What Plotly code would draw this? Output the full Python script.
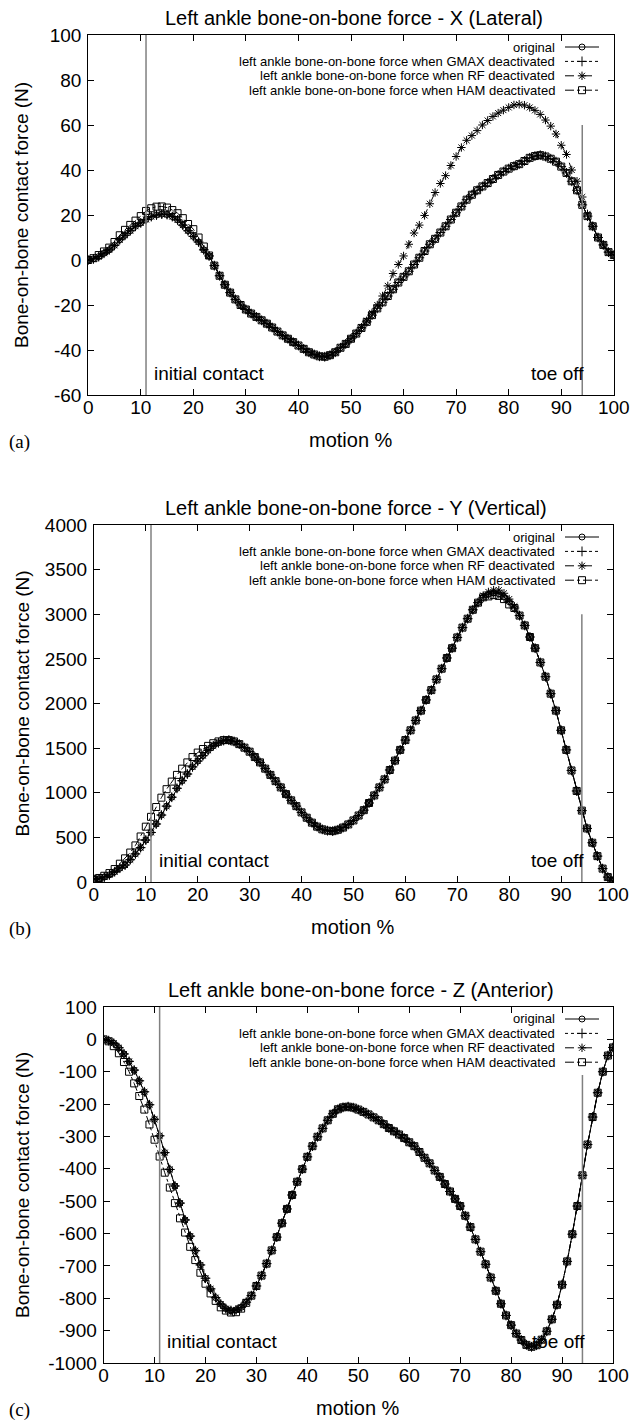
import plotly.graph_objects as go

# ---------------- data ----------------
motion_pct = list(range(0, 101))

x_tick_vals = [0, 10, 20, 30, 40, 50, 60, 70, 80, 90, 100]
x_tick_text = ["0", "10", "20", "30", "40", "50", "60", "70", "80", "90", "100"]

a_tick_vals = [-60, -40, -20, 0, 20, 40, 60, 80, 100]
a_tick_text = ["-60", "-40", "-20", "0", "20", "40", "60", "80", "100"]
b_tick_vals = [0, 500, 1000, 1500, 2000, 2500, 3000, 3500, 4000]
b_tick_text = ["0", "500", "1000", "1500", "2000", "2500", "3000", "3500", "4000"]
c_tick_vals = [-1000, -900, -800, -700, -600, -500, -400, -300, -200, -100, 0, 100]
c_tick_text = ["-1000", "-900", "-800", "-700", "-600", "-500", "-400", "-300",
               "-200", "-100", "0", "100"]

panel_titles = ["Left ankle bone-on-bone force - X (Lateral)",
                "Left ankle bone-on-bone force - Y (Vertical)",
                "Left ankle bone-on-bone force - Z (Anterior)"]
panel_labels = ["(a)", "(b)", "(c)"]
series_names = ["original",
                "left ankle bone-on-bone force when GMAX deactivated",
                "left ankle bone-on-bone force when RF deactivated",
                "left ankle bone-on-bone force when HAM deactivated"]

initial_contact_pct = 11
toe_off_pct = 94
toe_off_line_top = [60, 3000, -110]

# Panel (a) X (Lateral)
a_orig = [0, 0.5, 1.5, 3, 4.5, 6.5, 9, 11, 13, 15,
          16.5, 18, 19.3, 20, 20.4, 20.2, 19.3, 17.8, 15.5, 13,
          10.5, 8, 4.5, 1.8, -2.5, -7, -11, -14.5, -17.5, -20,
          -22, -23.8, -25.3, -26.8, -28.3, -30, -31.8, -33.5, -35, -36.5,
          -38, -39.5, -41, -42, -42.8, -43, -42.3, -41, -39, -37.3,
          -35, -32.7, -30.2, -27.5, -24.5, -21.5, -18.8, -16, -13, -10,
          -7.5, -5, -2, 1, 4, 7, 9.4, 12.2, 15, 18,
          21, 23.8, 26.8, 29, 31, 32.7, 34.2, 36, 37.8, 39.3,
          40.6, 41.7, 42.6, 44, 45.4, 46.2, 46.6, 46, 45, 43.7,
          41.5, 38.7, 35, 31, 24.5, 19.5, 15, 10, 6.7, 3.5,
          2.2]
a_gmax = list(a_orig)  # coincides with the original curve in the picture
a_rf = a_orig[:52] + [-30, -27, -23.5, -20, -16, -11.5, -6, -2,
                      1.8, 7, 12, 15.5, 19.8, 25, 30, 34, 37.5, 42,
                      46, 50, 53.2, 55.3, 57.5, 60, 62, 63.8, 65.3, 66.6,
                      67.8, 68.9, 69.2, 68.8, 67.8, 66.5, 64.7, 62.2, 59.5, 56,
                      51, 46.9, 40, 35, 28, 20.5, 15, 10, 6.7, 3.5, 2.2]
a_ham = [0, 0.8, 2.2, 3.8, 5.5, 8, 11, 13.4, 15.6, 17.5,
         19.5, 21.8, 23, 23.7, 23.8, 23.3, 22.2, 20.8, 18.6, 16,
         13.7, 10, 6, 2] + a_orig[24:]

# Panel (b) Y (Vertical)
b_orig = [30, 35, 55, 80, 115, 155, 190, 250, 315, 385,
          470, 555, 650, 750, 850, 950, 1050, 1135, 1210, 1290,
          1355, 1415, 1475, 1525, 1560, 1585, 1590, 1575, 1545, 1505,
          1460, 1400, 1340, 1270, 1200, 1130, 1060, 985, 915, 850,
          780, 720, 665, 620, 590, 575, 570, 585, 610, 645,
          690, 745, 805, 885, 970, 1060, 1150, 1255, 1360, 1480,
          1590, 1700, 1810, 1920, 2040, 2150, 2270, 2390, 2510, 2620,
          2740, 2850, 2950, 3050, 3130, 3190, 3225, 3240, 3230, 3195,
          3140, 3070, 2985, 2875, 2745, 2620, 2460, 2300, 2110, 1920,
          1700, 1480, 1250, 1020, 800, 600, 440, 290, 150, 55,
          10]
b_gmax = list(b_orig)
b_rf = b_orig[:75] + [3210, 3250, 3270, 3270, 3235, 3170, 3090] + b_orig[82:]
b_ham = ([30, 45, 70, 100, 145, 205, 265, 330, 410, 510,
          620, 730, 840, 945, 1040, 1125, 1200, 1270, 1340, 1400,
          1450, 1490, 1525, 1555, 1575, 1590]
         + b_orig[26:76] + [3200, 3215, 3205, 3170, 3110] + b_orig[81:])

# Panel (c) Z (Anterior)
c_orig = [0, -4, -12, -26, -45, -68, -95, -128, -162, -202,
          -247, -298, -350, -402, -453, -506, -558, -608, -653, -697,
          -738, -771, -798, -818, -832, -838, -836, -828, -812, -792,
          -762, -730, -693, -652, -611, -568, -524, -481, -440, -401,
          -363, -330, -301, -275, -250, -230, -216, -210, -208, -211,
          -217, -224, -232, -241, -250, -262, -274, -284, -294, -305,
          -318, -330, -348, -366, -383, -405, -425, -447, -470, -493,
          -515, -545, -580, -618, -656, -695, -736, -777, -817, -853,
          -883, -909, -929, -944, -950, -945, -928, -902, -865, -820,
          -758, -686, -602, -515, -420, -325, -240, -165, -100, -50,
          -25]
c_gmax = list(c_orig)
c_rf = list(c_orig)
c_ham = [0, -6, -21, -43, -70, -100, -136, -175, -217, -263,
         -310, -362, -412, -458, -506, -553, -597, -641, -682, -721,
         -755, -785, -808, -828, -838, -844, -843, -832, -814] + c_orig[29:]

panels = [
    (a_orig, a_gmax, a_rf, a_ham),
    (b_orig, b_gmax, b_rf, b_ham),
    (c_orig, c_gmax, c_rf, c_ham),
]

# ---------------- styling ----------------
W, H = 634, 1424
SANS = "Liberation Sans, Arial, Helvetica, sans-serif"
SERIF = "Liberation Serif, Times New Roman, serif"
BIG = 19
TITLE = 20
SMALL = 13

# plot-area boxes in pixels: (left, right, top, bottom)
boxes = [(88.2, 613.8, 35, 395),
         (93.9, 613.0, 525, 882),
         (103.6, 613.0, 1007, 1363)]
y_ranges = [(-60, 100), (0, 4000), (-1000, 100)]
y_ticks = [(a_tick_vals, a_tick_text), (b_tick_vals, b_tick_text), (c_tick_vals, c_tick_text)]

styles = [
    dict(dash="solid", symbol="circle-open", size=6),
    dict(dash="dot", symbol="cross-thin-open", size=7),
    dict(dash="dash", symbol="asterisk-open", size=7),
    dict(dash="dashdot", symbol="square-open", size=7),
]

def px_x(px):
    return px / W

def px_y(py):
    return 1 - py / H

fig = go.Figure()
layout = dict(width=W, height=H, margin=dict(l=0, r=0, t=0, b=0),
              paper_bgcolor="white", plot_bgcolor="rgba(0,0,0,0)",
              showlegend=False, font=dict(family=SANS, size=BIG, color="black"))
annotations = []
shapes = []

for i, (series, box) in enumerate(zip(panels, boxes)):
    n = "" if i == 0 else str(i + 1)
    xa, ya = "x" + n, "y" + n
    left, right, top, bottom = box
    for vals, st in zip(series, styles):
        fig.add_trace(go.Scatter(
            x=motion_pct, y=vals, xaxis=xa, yaxis=ya, mode="lines+markers",
            line=dict(color="black", width=1, dash=st["dash"]),
            marker=dict(symbol=st["symbol"], size=st["size"], color="black",
                        line=dict(color="black", width=1)),
            hoverinfo="skip"))
    axis_common = dict(showline=True, linecolor="black", linewidth=1, mirror="ticks",
                       ticks="inside", ticklen=6, tickcolor="black", tickwidth=1,
                       showgrid=False, zeroline=False, automargin=False, fixedrange=True,
                       tickfont=dict(family=SANS, size=BIG, color="black"))
    layout["xaxis" + n] = dict(axis_common, domain=[px_x(left), px_x(right)], range=[0, 100],
                               tickvals=x_tick_vals, ticktext=x_tick_text, anchor=ya,
                               ticklabelstandoff=-5)
    layout["yaxis" + n] = dict(axis_common, domain=[px_y(bottom), px_y(top)],
                               range=list(y_ranges[i]), tickvals=y_ticks[i][0],
                               ticktext=y_ticks[i][1], anchor=xa, ticklabelstandoff=2)
    cx = (left + right) / 2
    cy = (top + bottom) / 2
    # title
    annotations.append(dict(text=panel_titles[i], xref="paper", yref="paper",
                            x=px_x(cx + 3), y=px_y(top - 17), showarrow=False,
                            xanchor="center", yanchor="middle",
                            font=dict(family=SANS, size=TITLE)))
    # y title
    annotations.append(dict(text="Bone-on-bone contact force (N)", xref="paper", yref="paper",
                            x=px_x(22), y=px_y(cy), showarrow=False, textangle=-90,
                            xanchor="center", yanchor="middle",
                            font=dict(family=SANS, size=BIG)))
    # x title
    annotations.append(dict(text="motion %", xref="paper", yref="paper",
                            x=px_x(cx), y=px_y(bottom + 45), showarrow=False,
                            xanchor="center", yanchor="middle",
                            font=dict(family=SANS, size=TITLE)))
    # panel label
    annotations.append(dict(text=panel_labels[i], xref="paper", yref="paper",
                            x=px_x(7), y=px_y(bottom + 47), showarrow=False,
                            xanchor="left", yanchor="middle",
                            font=dict(family=SERIF, size=BIG)))
    # event lines
    ymin, ymax = y_ranges[i]
    shapes.append(dict(type="line", xref=xa, yref=ya, x0=initial_contact_pct,
                       x1=initial_contact_pct, y0=ymin, y1=ymax,
                       line=dict(color="#808080", width=1.5), layer="above"))
    shapes.append(dict(type="line", xref=xa, yref=ya, x0=toe_off_pct, x1=toe_off_pct,
                       y0=ymin, y1=toe_off_line_top[i],
                       line=dict(color="#808080", width=1.5), layer="above"))
    # event labels
    ev_y = bottom - 22
    annotations.append(dict(text="initial contact", xref="paper", yref="paper",
                            x=px_x(left + (right - left) * 0.121), y=px_y(ev_y),
                            showarrow=False, xanchor="left", yanchor="middle",
                            font=dict(family=SANS, size=BIG)))
    annotations.append(dict(text="toe off", xref="paper", yref="paper",
                            x=px_x(left + (right - left) * 0.948), y=px_y(ev_y),
                            showarrow=False, xanchor="right", yanchor="middle",
                            font=dict(family=SANS, size=BIG)))
    # legend (gnuplot style: text right-aligned, sample on the right)
    for k, (name, st) in enumerate(zip(series_names, styles)):
        ky = top + 12 + 14.4 * k
        annotations.append(dict(text=name, xref="paper", yref="paper",
                                x=px_x(557), y=px_y(ky), showarrow=False,
                                xanchor="right", yanchor="middle",
                                font=dict(family=SANS, size=SMALL)))
        fig.add_trace(go.Scatter(x=[565, 599], y=[ky, ky], xaxis="x4", yaxis="y4",
                                 mode="lines", line=dict(color="black", width=1, dash=st["dash"]),
                                 hoverinfo="skip"))
        fig.add_trace(go.Scatter(x=[582], y=[ky], xaxis="x4", yaxis="y4", mode="markers",
                                 marker=dict(symbol=st["symbol"], size=st["size"], color="black",
                                             line=dict(color="black", width=1)),
                                 hoverinfo="skip"))

layout["xaxis4"] = dict(domain=[0, 1], range=[0, W], visible=False, fixedrange=True, anchor="y4")
layout["yaxis4"] = dict(domain=[0, 1], range=[H, 0], visible=False, fixedrange=True, anchor="x4")
layout["annotations"] = annotations
layout["shapes"] = shapes
fig.update_layout(**layout)

fig.write_html("out.html", config={"displayModeBar": False},
               post_script="document.body.style.margin='0';document.body.style.overflow='hidden';")
